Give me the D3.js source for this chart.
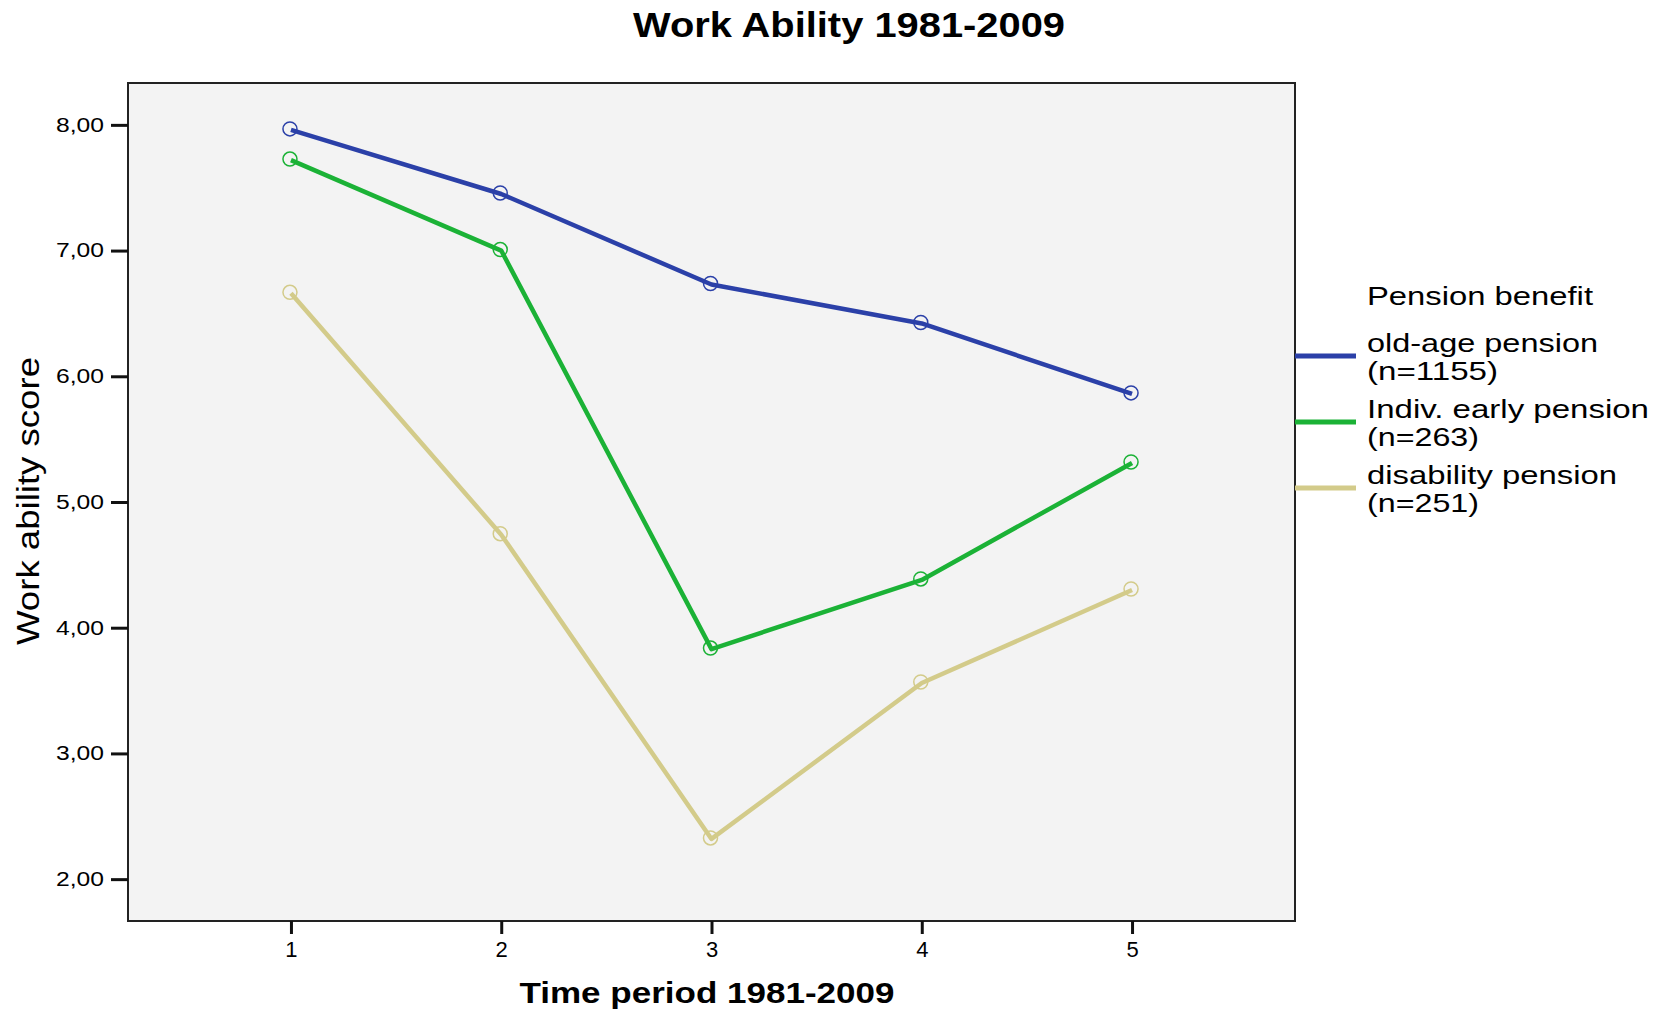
<!DOCTYPE html>
<html>
<head>
<meta charset="utf-8">
<script src="https://cdn.jsdelivr.net/npm/d3@7"></script>
<style>
  body { margin: 0; background: #fff; }
  text { font-family: "Liberation Sans", Arial, sans-serif; fill: #000; }
</style>
</head>
<body>
<script>
var periods = [1, 2, 3, 4, 5];
var oldAge = [7.96, 7.45, 6.73, 6.42, 5.86];
var indivEarly = [7.72, 7.00, 3.83, 4.38, 5.31];
var disability = [6.66, 4.74, 2.32, 3.56, 4.30];
var yTicks = [2, 3, 4, 5, 6, 7, 8];
var seriesNames = ["old-age pension", "Indiv. early pension", "disability pension"];
var seriesCounts = ["(n=1155)", "(n=263)", "(n=251)"];

const WIDTH = 1669;
const HEIGHT = 1010;
const LEFT = 128;
const RIGHT = 1295;
const TOP = 83;
const BOTTOM = 921;

var colors = ["#2b40a8", "#1bb236", "#d3cb8a"];

var xScale = d3.scaleLinear()
  .domain([0.225, 5.775])
  .range([LEFT, RIGHT]);

var yScale = d3.scaleLinear()
  .domain([1.667, 8.333])
  .range([BOTTOM, TOP]);

var commaFormat = d3.formatLocale({decimal: ",", thousands: ".", grouping: [3], currency: ["", ""]}).format(".2f");

// stretch text to a given width, the source fonts are drawn wide
var fit = function(sel, w) {
  sel.attr("textLength", w).attr("lengthAdjust", "spacingAndGlyphs");
};

var svg = d3.select("body").append("svg")
  .attr("width", WIDTH)
  .attr("height", HEIGHT);

svg.append("rect")
  .attr("x", LEFT).attr("y", TOP)
  .attr("width", RIGHT - LEFT).attr("height", BOTTOM - TOP)
  .attr("fill", "#f3f3f3")
  .attr("stroke", "#222")
  .attr("stroke-width", 2);

var yAxis = d3.axisLeft(yScale)
  .tickValues(yTicks)
  .tickFormat(commaFormat)
  .tickSize(17)
  .tickPadding(7)
  .tickSizeOuter(0);

var gy = svg.append("g")
  .attr("transform", "translate(" + LEFT + ",0)")
  .call(yAxis);
gy.select(".domain").remove();
gy.selectAll(".tick line").attr("stroke", "#111").attr("stroke-width", 3);
gy.selectAll(".tick text")
  .attr("font-size", 20)
  .attr("fill", "#222")
  .attr("font-family", "Liberation Sans, Arial, sans-serif")
  .call(fit, 48);

var xAxis = d3.axisBottom(xScale)
  .tickValues(periods)
  .tickFormat(d3.format("d"))
  .tickSize(13)
  .tickPadding(7)
  .tickSizeOuter(0);

var gx = svg.append("g")
  .attr("transform", "translate(0," + BOTTOM + ")")
  .call(xAxis);
gx.select(".domain").remove();
gx.selectAll(".tick line").attr("stroke", "#111").attr("stroke-width", 3);
gx.selectAll(".tick text")
  .attr("font-size", 22)
  .attr("fill", "#222")
  .attr("font-family", "Liberation Sans, Arial, sans-serif");

var line = d3.line()
  .x(function(d, i) { return xScale(periods[i]); })
  .y(function(d) { return yScale(d); });

var allSeries = [oldAge, indivEarly, disability];

allSeries.forEach(function(values, k) {
  svg.append("path")
    .attr("d", line(values))
    .attr("fill", "none")
    .attr("stroke", colors[k])
    .attr("stroke-width", 4.5)
    .attr("stroke-linejoin", "round");

  svg.append("g").selectAll("circle")
    .data(values)
    .enter()
    .append("circle")
    .attr("cx", function(d, i) { return xScale(periods[i]) - 1; })
    .attr("cy", function(d) { return yScale(d) - 1; })
    .attr("r", 7)
    .attr("fill", "none")
    .attr("stroke", colors[k])
    .attr("stroke-width", 1.5);
});

// title
svg.append("text")
  .attr("x", 849).attr("y", 37)
  .attr("text-anchor", "middle")
  .attr("font-size", 35)
  .attr("font-weight", "bold")
  .text("Work Ability 1981-2009")
  .call(fit, 432);

// axis titles
svg.append("text")
  .attr("x", 707).attr("y", 1003)
  .attr("text-anchor", "middle")
  .attr("font-size", 29)
  .attr("font-weight", "bold")
  .text("Time period 1981-2009")
  .call(fit, 375);

svg.append("text")
  .attr("transform", "translate(39,501) rotate(-90)")
  .attr("text-anchor", "middle")
  .attr("font-size", 31)
  .text("Work ability score")
  .call(fit, 288);

// legend
var legend = svg.append("g");

legend.append("text")
  .attr("x", 1367).attr("y", 305)
  .attr("font-size", 25)
  .text("Pension benefit")
  .call(fit, 226);

var nameWidths = [231, 282, 250];
var countWidths = [131, 112, 112];
var legendY = d3.scalePoint().domain(seriesNames).range([352, 484]);

seriesNames.forEach(function(name, k) {
  var y = legendY(name);
  legend.append("line")
    .attr("x1", 1295).attr("x2", 1356)
    .attr("y1", y + 4).attr("y2", y + 4)
    .attr("stroke", colors[k])
    .attr("stroke-width", 5);
  legend.append("text")
    .attr("x", 1367).attr("y", y)
    .attr("font-size", 25)
    .text(name)
    .call(fit, nameWidths[k]);
  legend.append("text")
    .attr("x", 1367).attr("y", y + 28)
    .attr("font-size", 25)
    .text(seriesCounts[k])
    .call(fit, countWidths[k]);
});
</script>
</body>
</html>
